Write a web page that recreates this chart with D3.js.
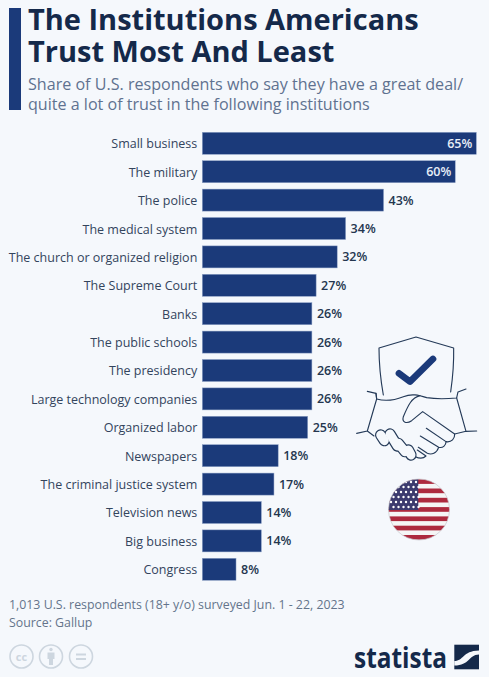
<!DOCTYPE html>
<html><head><meta charset="utf-8">
<script src="https://cdn.jsdelivr.net/npm/d3@7/dist/d3.min.js"></script>
<style>html,body{margin:0;padding:0;background:#f5f8fc;overflow:hidden}text{font-family:"Open Sans",sans-serif}</style>
</head><body><svg id="c" width="489" height="677"></svg>
<script>
const categories=["Small business","The military","The police","The medical system","The church or organized religion","The Supreme Court","Banks","The public schools","The presidency","Large technology companies","Organized labor","Newspapers","The criminal justice system","Television news","Big business","Congress"];
const values=[65,60,43,34,32,27,26,26,26,26,25,18,17,14,14,8];
const titleLines=["The Institutions Americans","Trust Most And Least"];
const subtitleLines=["Share of U.S. respondents who say they have a great deal/","quite a lot of trust in the following institutions"];
const footLines=["1,013 U.S. respondents (18+ y/o) surveyed Jun. 1 - 22, 2023","Source: Gallup"];
const svg=d3.select("#c");
svg.append("rect").attr("width",489).attr("height",677).attr("fill","#f5f8fc");
svg.append("rect").attr("x",9).attr("y",8).attr("width",12).attr("height",102).attr("fill","#1b3a7a");
titleLines.forEach((t,i)=>svg.append("text").attr("x",28).attr("y",30+i*32).attr("font-size",29).attr("font-weight",700).attr("fill","#14294a").text(t));
subtitleLines.forEach((t,i)=>svg.append("text").attr("x",28).attr("y",90+i*20).attr("font-size",16.1).attr("fill","#5f7290").text(t));
const x=d3.scaleLinear().domain([0,65]).range([202.3,476.3]);
const y=d3.scaleBand().domain(categories).range([132.3,580.3]).paddingInner(0.225).paddingOuter(0);
const g=svg.append("g");
g.selectAll("rect").data(values).join("rect").attr("x",x(0)).attr("y",(d,i)=>y(categories[i])).attr("width",d=>x(d)-x(0)).attr("height",y.bandwidth()).attr("fill","#1b3a7a").attr("stroke","#8ea2c6").attr("stroke-width",.5);
const axis=d3.axisLeft(y).tickSize(0).tickPadding(5);
const ag=svg.append("g").attr("transform",`translate(${x(0)},0)`).call(axis);
ag.select(".domain").remove();
ag.selectAll("text").attr("font-size",12.5).attr("fill","#33445c").attr("dy","0.4em").style("font-family",'"Open Sans",sans-serif');
g.selectAll("text").data(values).join("text")
 .attr("x",d=>d>=60?x(d)-4:x(d)+5).attr("y",(d,i)=>y(categories[i])+y.bandwidth()/2+4.5)
 .attr("text-anchor",d=>d>=60?"end":"start").attr("font-size",12.5).attr("font-weight",600)
 .attr("fill",d=>d>=60?"#e8eef8":"#24364f").text(d=>d+"%");
// illustration
const ic=svg.append("g").attr("fill","none").attr("stroke","#243a58").attr("stroke-width",3.4).attr("stroke-linecap","round").attr("stroke-linejoin","round").attr("transform","translate(340,330) scale(.3333)");
["M130 195C122 150 117 100 117 54L228 21L341 54C342 100 338 145 332 186",
 "M82 184L108 190L110 207C140 215 165 210 190 200C215 190 235 195 260 203C290 208 320 207 350 204L354 186L378 177",
 "M108 190L110 207L82 303L50 310M82 303L102 318",
 "M350 204L378 304L410 303M378 304L344 312",
 "M240 197C215 203 205 225 190 260C185 278 200 282 215 272L248 245L344 312C345 325 335 338 318 335L259 295M318 335C318 345 310 355 296 352L241 318M296 352C290 370 275 375 262 370L235 352",
 "M232 360L258 378C250 386 238 386 226 380"
].forEach(d=>ic.append("path").attr("d",d));
const fingers=[[205,360,213,375],[175,340,195,365],[150,312,172,348],[122,315,133,332]];
fingers.forEach(([a,b,c,e])=>ic.append("line").attr("x1",a).attr("y1",b).attr("x2",c).attr("y2",e).attr("stroke-width",34));
fingers.forEach(([a,b,c,e])=>ic.append("line").attr("x1",a).attr("y1",b).attr("x2",c).attr("y2",e).attr("stroke","#f5f8fc").attr("stroke-width",27));
ic.append("path").attr("d","M177 130L210 155L279 87").attr("stroke","#1b3a7a").attr("stroke-width",20);
// flag
const f=svg.append("g");
const cp=svg.append("defs").append("clipPath").attr("id","fl");cp.append("circle").attr("cx",419).attr("cy",509.5).attr("r",30.5);
const fg=f.append("g").attr("clip-path","url(#fl)");
fg.append("rect").attr("x",388).attr("y",479).attr("width",62).attr("height",62).attr("fill","#f5f5f5");
d3.range(7).forEach(i=>fg.append("rect").attr("x",388).attr("y",479.2+i*9.3).attr("width",62).attr("height",4.7).attr("fill","#ad2a3e"));
fg.append("rect").attr("x",388).attr("y",479).attr("width",30.3).attr("height",31).attr("fill","#3c3b6e");
d3.range(6).forEach(r=>d3.range(6).forEach(c=>{fg.append("circle").attr("cx",391+c*5+(r%2)*2.5).attr("cy",482+r*5).attr("r",1.2).attr("fill","#fff")}));
f.append("circle").attr("cx",419).attr("cy",509.5).attr("r",30.5).attr("fill","none").attr("stroke","#c9c9cf").attr("stroke-width",.7);
footLines.forEach((t,i)=>svg.append("text").attr("x",9).attr("y",609+i*17.5).attr("font-size",12.35).attr("fill","#64748b").text(t));
// cc icons
const cc=svg.append("g").attr("fill","none").attr("stroke","#cdd6df").attr("stroke-width",1.6);
[21.5,51,81].forEach(c=>cc.append("circle").attr("cx",c).attr("cy",656.5).attr("r",11.5));
svg.append("text").attr("x",21.5).attr("y",660.5).attr("text-anchor","middle").attr("font-size",11).attr("font-weight",700).attr("fill","#cdd6df").text("cc");
cc.append("circle").attr("cx",51).attr("cy",649.5).attr("r",1.7).attr("fill","#cdd6df").attr("stroke","none");
svg.append("path").attr("d","M47.5 652.5H54.5V659H53V665H49V659H47.5Z").attr("fill","#cdd6df");
svg.append("path").attr("d","M76 653.5H86V655.5H76ZM76 658H86V660H76Z").attr("fill","#cdd6df");
// logo
svg.append("text").attr("x",354).attr("y",668).attr("font-size",29).attr("font-weight",700).attr("fill","#14294a").attr("textLength",93).attr("lengthAdjust","spacingAndGlyphs").text("statista");
svg.append("rect").attr("x",454.3).attr("y",644.7).attr("width",24.7).attr("height",24.6).attr("fill","#14294a");
svg.append("path").attr("d","M454.3 661C464 661 462 651 479 650.5V654.5C468 655 470 665.5 454.3 665.5Z").attr("fill","#f5f8fc");
</script></body></html>
